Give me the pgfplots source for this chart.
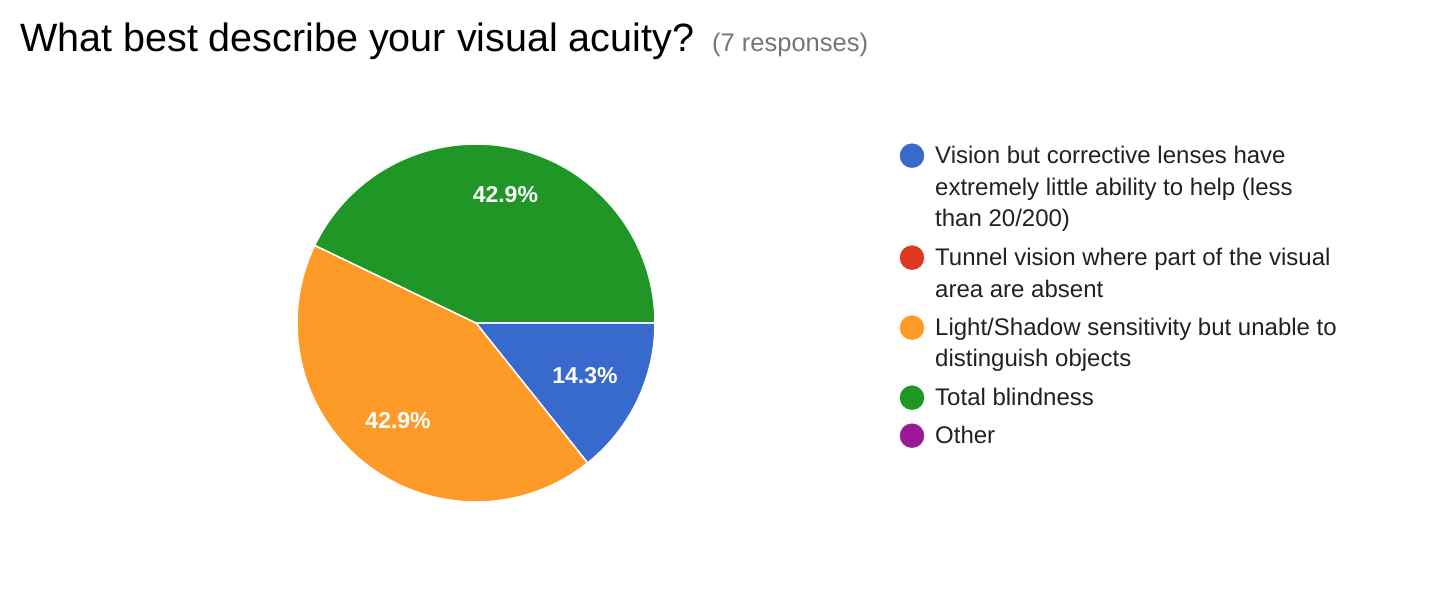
\documentclass[border=0pt]{standalone}
\usepackage{pgfplots}
\pgfplotsset{compat=1.18}
\usepackage{pgfplotstable}
\usepackage{fontspec}
\setmainfont{Liberation Sans}
\definecolor{gblue}{HTML}{3869CC}
\definecolor{gred}{HTML}{DC3A1E}
\definecolor{gorange}{HTML}{FE9A27}
\definecolor{ggreen}{HTML}{1F9625}
\definecolor{gpurple}{HTML}{991A99}
\definecolor{txt}{HTML}{212121}
\definecolor{sub}{HTML}{757575}

% responses per answer
\pgfplotstableread{
idx count
0 1
1 0
2 3
3 3
4 0
}\pietable
\pgfplotstablegetelem{0}{count}\of\pietable \let\nA\pgfplotsretval
\pgfplotstablegetelem{1}{count}\of\pietable \let\nB\pgfplotsretval
\pgfplotstablegetelem{2}{count}\of\pietable \let\nC\pgfplotsretval
\pgfplotstablegetelem{3}{count}\of\pietable \let\nD\pgfplotsretval
\pgfplotstablegetelem{4}{count}\of\pietable \let\nE\pgfplotsretval
\pgfmathsetmacro\tot{\nA+\nB+\nC+\nD+\nE}
\pgfmathsetmacro\aA{-360*\nA/\tot}
\pgfmathsetmacro\aB{-360*(\nA+\nB)/\tot}
\pgfmathsetmacro\aC{-360*(\nA+\nB+\nC)/\tot}
\pgfmathsetmacro\aD{-360*(\nA+\nB+\nC+\nD)/\tot}
\pgfmathsetmacro\mA{\aA/2}
\pgfmathsetmacro\mC{(\aB+\aC)/2}
\pgfmathsetmacro\mD{(\aC+\aD)/2}
\pgfmathsetmacro\pA{100*\nA/\tot}
\pgfmathsetmacro\pC{100*\nC/\tot}
\pgfmathsetmacro\pD{100*\nD/\tot}

\begin{document}%
\begin{tikzpicture}
\begin{axis}[
  scale only axis, width=1430pt, height=594pt,
  xmin=0, xmax=1430, ymin=0, ymax=594,
  hide axis, clip=false,
]
\addplot[draw=none] coordinates {(0,0) (1430,594)};
% pie slices (centre 476,271; radius 179)
\addplot[fill=gblue, draw=white, line width=1.5pt, domain=\aA:0, samples=80]
  ({476+179*cos(x)}, {271+179*sin(x)}) -- (axis cs:476,271) -- cycle;
\addplot[fill=gorange, draw=white, line width=1.5pt, domain=\aC:\aB, samples=120]
  ({476+179*cos(x)}, {271+179*sin(x)}) -- (axis cs:476,271) -- cycle;
\addplot[fill=ggreen, draw=white, line width=1.5pt, domain=\aD:\aC, samples=120]
  ({476+179*cos(x)}, {271+179*sin(x)}) -- (axis cs:476,271) -- cycle;
% slice labels
\node[text=white, inner sep=0, font=\fontsize{23}{26}\selectfont\bfseries]
  at (axis cs:{476+121*cos(\mA)},{271+121*sin(\mA)})
  {\pgfmathprintnumber[fixed,precision=1,fixed zerofill,assume math mode=true]{\pA}\%};
\node[text=white, inner sep=0, font=\fontsize{23}{26}\selectfont\bfseries]
  at (axis cs:{476+125*cos(\mC)},{271+125*sin(\mC)})
  {\pgfmathprintnumber[fixed,precision=1,fixed zerofill,assume math mode=true]{\pC}\%};
\node[text=white, inner sep=0, font=\fontsize{23}{26}\selectfont\bfseries]
  at (axis cs:{476+132*cos(\mD)},{271+132*sin(\mD)})
  {\pgfmathprintnumber[fixed,precision=1,fixed zerofill,assume math mode=true]{\pD}\%};
% legend markers
\addplot[only marks, mark=*, mark size=12, color=gblue] coordinates {(912,438.3)};
\addplot[only marks, mark=*, mark size=12, color=gred] coordinates {(912,336.3)};
\addplot[only marks, mark=*, mark size=12, color=gorange] coordinates {(912,266.3)};
\addplot[only marks, mark=*, mark size=12, color=ggreen] coordinates {(912,196.3)};
\addplot[only marks, mark=*, mark size=12, color=gpurple] coordinates {(912,158.3)};
% legend text
\tikzset{lg/.style={anchor=base west, inner sep=0, text=txt, font=\fontsize{24}{30}\selectfont}}
\node[lg] at (axis cs:935,430) {Vision but corrective lenses have};
\node[lg] at (axis cs:935,398.5) {extremely little ability to help (less};
\node[lg] at (axis cs:935,367) {than 20/200)};
\node[lg] at (axis cs:935,328) {Tunnel vision where part of the visual};
\node[lg] at (axis cs:935,296) {area are absent};
\node[lg] at (axis cs:935,258) {Light/Shadow sensitivity but unable to};
\node[lg] at (axis cs:935,227) {distinguish objects};
\node[lg] at (axis cs:935,188) {Total blindness};
\node[lg] at (axis cs:935,150) {Other};
% title
\node[anchor=base west, inner sep=0, text=black, font=\fontsize{39.5}{42}\selectfont]
  at (axis cs:20,542) {What best describe your visual acuity?};
\node[anchor=base west, inner sep=0, text=sub, font=\fontsize{25.5}{28}\selectfont]
  at (axis cs:712,542) {(7 responses)};
\end{axis}
\end{tikzpicture}%
\end{document}
